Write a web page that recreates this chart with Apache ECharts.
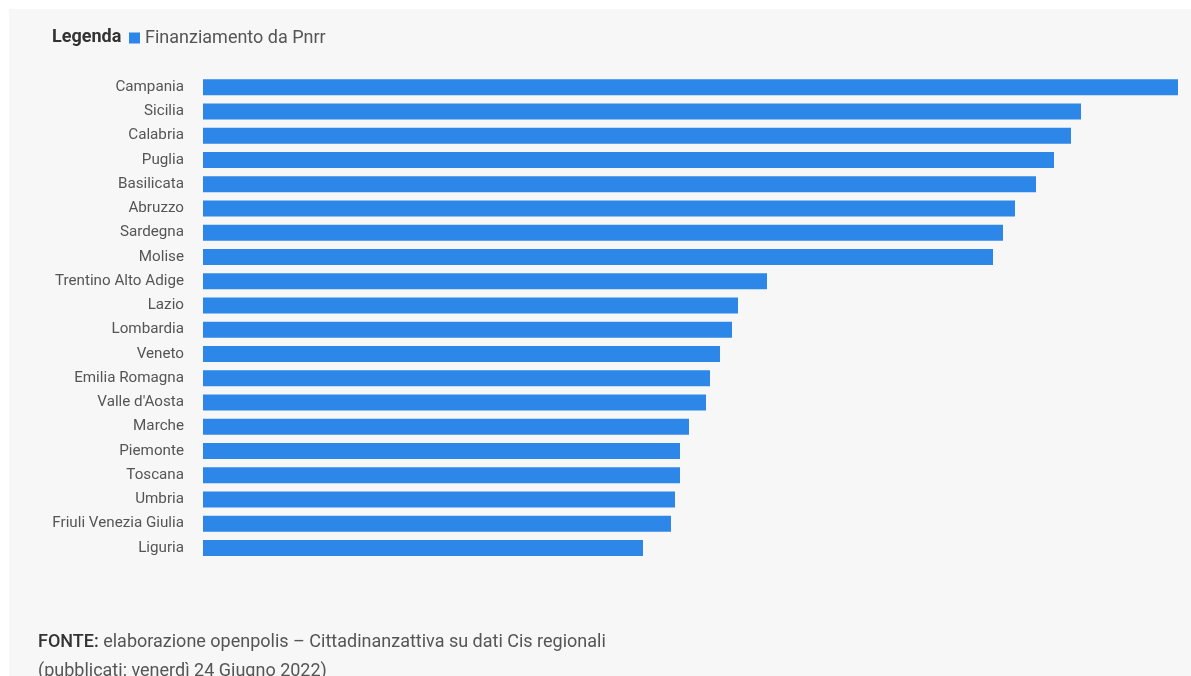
<!DOCTYPE html>
<html>
<head>
<meta charset="utf-8">
<title>Finanziamento da Pnrr per regione</title>
<script src="https://cdn.jsdelivr.net/npm/echarts@6/dist/echarts.min.js"></script>
<style>
  html, body { margin: 0; padding: 0; background: #ffffff; }
  #chart { width: 1191px; height: 676px; }
</style>
</head>
<body>
<div id="chart"></div>
<script>
// Regions, ordered from the largest to the smallest allocation
const regions = [
  'Campania', 'Sicilia', 'Calabria', 'Puglia', 'Basilicata', 'Abruzzo',
  'Sardegna', 'Molise', 'Trentino Alto Adige', 'Lazio', 'Lombardia', 'Veneto',
  'Emilia Romagna', "Valle d'Aosta", 'Marche', 'Piemonte', 'Toscana', 'Umbria',
  'Friuli Venezia Giulia', 'Liguria'
];

// Relative PNRR funding per region (same order as regions)
const funding = [
  975, 878, 868, 851, 833, 812,
  800, 790, 564, 535, 529, 517,
  507, 503, 486, 477, 477, 472,
  468, 440
];

const seriesName = 'Finanziamento da Pnrr';
const sourceLabel = 'FONTE:';
const sourceText = ' elaborazione openpolis \u2013 Cittadinanzattiva su dati Cis regionali';
const publishedText = '(pubblicati: venerd\u00ec 24 Giugno 2022)';

const FONT = 'Roboto, "Noto Sans", sans-serif';
const BAR_COLOR = '#2d87e9';

const chart = echarts.init(document.getElementById('chart'), null, { renderer: 'canvas' });

chart.setOption({
  animation: false,
  backgroundColor: '#ffffff',
  textStyle: { fontFamily: FONT },
  graphic: [
    {
      type: 'rect',
      left: 9, top: 9, z: -10,
      shape: { width: 1182, height: 667 },
      style: { fill: '#f7f7f7' },
      silent: true
    },
    {
      type: 'text',
      left: 52, top: 28,
      style: {
        text: 'Legenda',
        font: 'bold 18px ' + FONT,
        fill: '#333333'
      }
    },
    {
      type: 'text',
      left: 38, top: 633,
      style: {
        text: '{b|' + sourceLabel + '}{n|' + sourceText + '}',
        rich: {
          b: { font: '500 18px ' + FONT, fill: '#333333' },
          n: { font: '18px ' + FONT, fill: '#555555' }
        }
      }
    },
    {
      type: 'text',
      left: 38, top: 662,
      style: {
        text: publishedText,
        font: '18px ' + FONT,
        fill: '#555555'
      }
    }
  ],
  legend: {
    left: 129, top: 29,
    padding: 0,
    itemWidth: 11, itemHeight: 11, itemGap: 10,
    icon: 'rect',
    textStyle: { fontSize: 18, color: '#555555', fontFamily: FONT },
    data: [seriesName]
  },
  grid: {
    left: 203, right: 13, top: 75, bottom: 116,
    containLabel: false
  },
  xAxis: {
    type: 'value',
    min: 0,
    max: 'dataMax',
    show: false
  },
  yAxis: {
    type: 'category',
    inverse: true,
    data: regions,
    axisLine: { show: false },
    axisTick: { show: false },
    splitLine: { show: false },
    axisLabel: {
      margin: 19,
      fontSize: 15.2,
      color: '#555555',
      fontFamily: FONT
    }
  },
  series: [
    {
      name: seriesName,
      type: 'bar',
      data: funding,
      barWidth: 16,
      itemStyle: { color: BAR_COLOR }
    }
  ]
});
</script>
</body>
</html>
